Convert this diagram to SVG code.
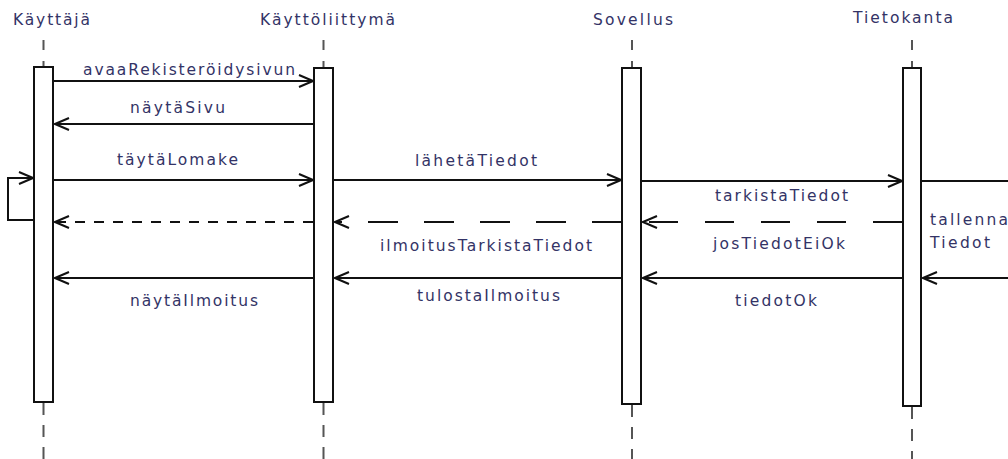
<svg xmlns="http://www.w3.org/2000/svg" width="1008" height="459" viewBox="0 0 1008 459">
<style>
.lbl{font-family:"DejaVu Sans","Liberation Sans",sans-serif;font-size:15.5px;fill:#333366;}
.life{stroke:#555;stroke-width:2;fill:none;}
.box{fill:#fff;stroke:#111;stroke-width:2;}
.msg{stroke:#111;stroke-width:2;fill:none;}
.arr{marker-end:url(#open);}
</style>
<defs>
<marker id="open" viewBox="0 0 16 14" markerWidth="16" markerHeight="14" refX="15" refY="7" orient="auto" markerUnits="userSpaceOnUse">
<path d="M1,1 L15,7 L1,13" fill="none" stroke="#111" stroke-width="2"/>
</marker>
</defs>
<rect width="1008" height="459" fill="#fff"/>

<g id="kayttaja">
<text class="lbl" x="13" y="25" textLength="77" lengthAdjust="spacing">Käyttäjä</text>
<path class="life" d="M43.5,40 V67" stroke-dasharray="10 11"/>
<path class="life" d="M43.5,403 V459" stroke-dasharray="12 10"/>
<rect class="box" x="34" y="67" width="19" height="335"/>
</g>

<g id="kayttoliittyma">
<text class="lbl" x="260" y="25" textLength="135" lengthAdjust="spacing">Käyttöliittymä</text>
<path class="life" d="M323.5,40 V68" stroke-dasharray="10 11"/>
<path class="life" d="M323.5,403 V459" stroke-dasharray="12 10"/>
<rect class="box" x="314" y="68" width="19" height="334"/>
</g>

<g id="sovellus">
<text class="lbl" x="593" y="25" textLength="80" lengthAdjust="spacing">Sovellus</text>
<path class="life" d="M632,40 V68" stroke-dasharray="10 11"/>
<path class="life" d="M632,405 V459" stroke-dasharray="12 10"/>
<rect class="box" x="622" y="68" width="19" height="336"/>
</g>

<g id="tietokanta">
<text class="lbl" x="853" y="23" textLength="100" lengthAdjust="spacing">Tietokanta</text>
<path class="life" d="M912,40 V68" stroke-dasharray="10 11"/>
<path class="life" d="M912,407 V459" stroke-dasharray="12 10"/>
<rect class="box" x="903" y="68" width="18" height="338"/>
</g>

<g id="connectors">
<path class="msg arr" d="M53,81 H313"/>
<path class="msg arr" d="M313,124 H55"/>
<path class="msg arr" d="M53,180 H313"/>
<path class="msg arr" d="M334,180 H621"/>
<path class="msg arr" d="M642,181 H902"/>
<path class="msg" d="M922,181 H1008"/>
<path class="msg arr" d="M33,220 H8 V178 H33"/>
<path class="msg arr" d="M902,222 H643" stroke-dasharray="29 27"/>
<path class="msg arr" d="M622,222 H335" stroke-dasharray="30 26"/>
<path class="msg arr" d="M313,222 H55" stroke-dasharray="10 9"/>
<path class="msg arr" d="M1008,278 H923"/>
<path class="msg arr" d="M902,278 H643"/>
<path class="msg arr" d="M622,278 H335"/>
<path class="msg arr" d="M313,278 H55"/>
</g>

<g id="labels">
<text class="lbl" x="83" y="75" textLength="212" lengthAdjust="spacing">avaaRekisteröidysivun</text>
<text class="lbl" x="130" y="113" textLength="95" lengthAdjust="spacing">näytäSivu</text>
<text class="lbl" x="117" y="165" textLength="121" lengthAdjust="spacing">täytäLomake</text>
<text class="lbl" x="415" y="166" textLength="122" lengthAdjust="spacing">lähetäTiedot</text>
<text class="lbl" x="715" y="201" textLength="133" lengthAdjust="spacing">tarkistaTiedot</text>
<text class="lbl" x="930" y="225" textLength="78" lengthAdjust="spacing">tallenna</text>
<text class="lbl" x="930" y="248" textLength="60" lengthAdjust="spacing">Tiedot</text>
<text class="lbl" x="713" y="249" textLength="132" lengthAdjust="spacing">josTiedotEiOk</text>
<text class="lbl" x="380" y="251" textLength="212" lengthAdjust="spacing">ilmoitusTarkistaTiedot</text>
<text class="lbl" x="417" y="301" textLength="143" lengthAdjust="spacing">tulostaIlmoitus</text>
<text class="lbl" x="130" y="306" textLength="128" lengthAdjust="spacing">näytäIlmoitus</text>
<text class="lbl" x="735" y="306" textLength="82" lengthAdjust="spacing">tiedotOk</text>
</g>
</svg>
